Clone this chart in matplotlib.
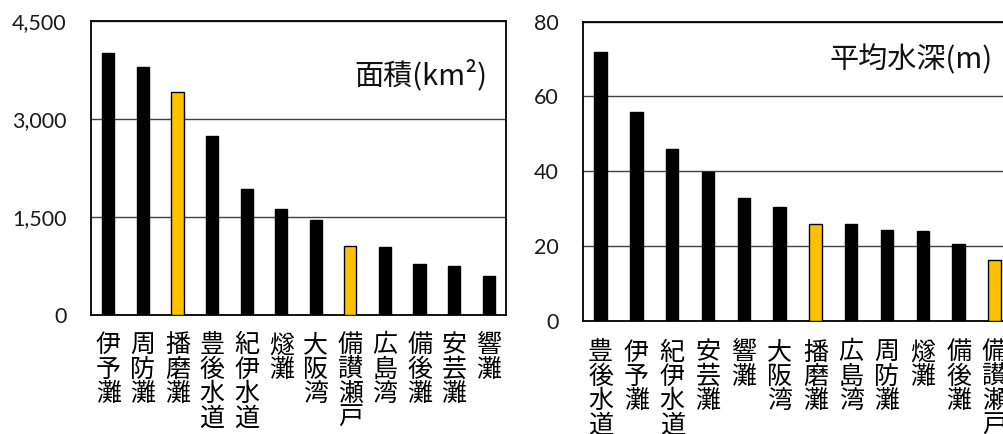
import matplotlib
matplotlib.use("Agg")
import matplotlib.pyplot as plt
from matplotlib.ticker import FuncFormatter

# 面積 (km2)
area_names = ["伊予灘", "周防灘", "播磨灘", "豊後水道", "紀伊水道", "燧灘",
              "大阪湾", "備讃瀬戸", "広島湾", "備後灘", "安芸灘", "響灘"]
area_values = [4005, 3800, 3420, 2740, 1930, 1620, 1450, 1060, 1045, 776, 750, 597]

# 平均水深 (m)
depth_names = ["豊後水道", "伊予灘", "紀伊水道", "安芸灘", "響灘", "大阪湾",
               "播磨灘", "広島湾", "周防灘", "燧灘", "備後灘", "備讃瀬戸"]
depth_values = [71.8, 55.8, 45.9, 39.9, 32.9, 30.5, 26.0, 25.9, 24.3, 24.1, 20.4, 16.3]

highlight = ["播磨灘", "備讃瀬戸"]

BLACK = "#000000"
YELLOW = "#FFC000"
GRID = "#404040"
LATIN = ["Lato", "Noto Sans CJK JP", "DejaVu Sans"]
CJK = ["Noto Sans CJK JP", "DejaVu Sans"]


def draw_panel(ax, names, values, ymax, yticks, title, title_y, fmt, xpad):
    colors = [YELLOW if n in highlight else BLACK for n in names]
    x = list(range(len(names)))
    ax.bar(x, values, width=0.35, color=colors, edgecolor=BLACK,
           linewidth=1.0, zorder=3)
    ax.set_xlim(-0.5, len(names) - 0.5)
    ax.set_ylim(0, ymax)
    ax.set_yticks(yticks)
    ax.yaxis.set_major_formatter(FuncFormatter(fmt))
    ax.grid(axis="y", color=GRID, linewidth=1.0, zorder=0)
    ax.set_axisbelow(True)
    for s in ax.spines.values():
        s.set_color(BLACK)
        s.set_linewidth(1.3)
    ax.tick_params(axis="y", length=0, pad=17.5, labelsize=15.5)
    for lbl in ax.get_yticklabels():
        lbl.set_family(LATIN)
        lbl.set_color("#1a1a1a")
    ax.set_xticks(x)
    ax.set_xticklabels(["\n".join(n) for n in names], fontsize=18,
                       family=CJK, linespacing=0.915, va="top")
    ax.tick_params(axis="x", length=0, pad=xpad)
    # panel title
    ax.text(0.955, title_y, title, transform=ax.transAxes,
            ha="right", va="center", fontsize=21, family=CJK,
            color="#111111")


fig = plt.figure(figsize=(10.04, 4.34), dpi=100)
ax1 = fig.add_axes([91 / 1004, 119 / 434, 415 / 1004, 294 / 434])
ax2 = fig.add_axes([582.7 / 1004, 113.3 / 434, 429.6 / 1004, 299 / 434])

draw_panel(ax1, area_names, area_values, 4500, [0, 1500, 3000, 4500],
           "面積(km²)", 0.815, lambda v, p: f"{int(v):,}", 12.5)
draw_panel(ax2, depth_names, depth_values, 80, [0, 20, 40, 60, 80],
           "平均水深(m)", 0.872, lambda v, p: f"{int(v)}", 13.5)

fig.savefig("out.png", dpi=100)
